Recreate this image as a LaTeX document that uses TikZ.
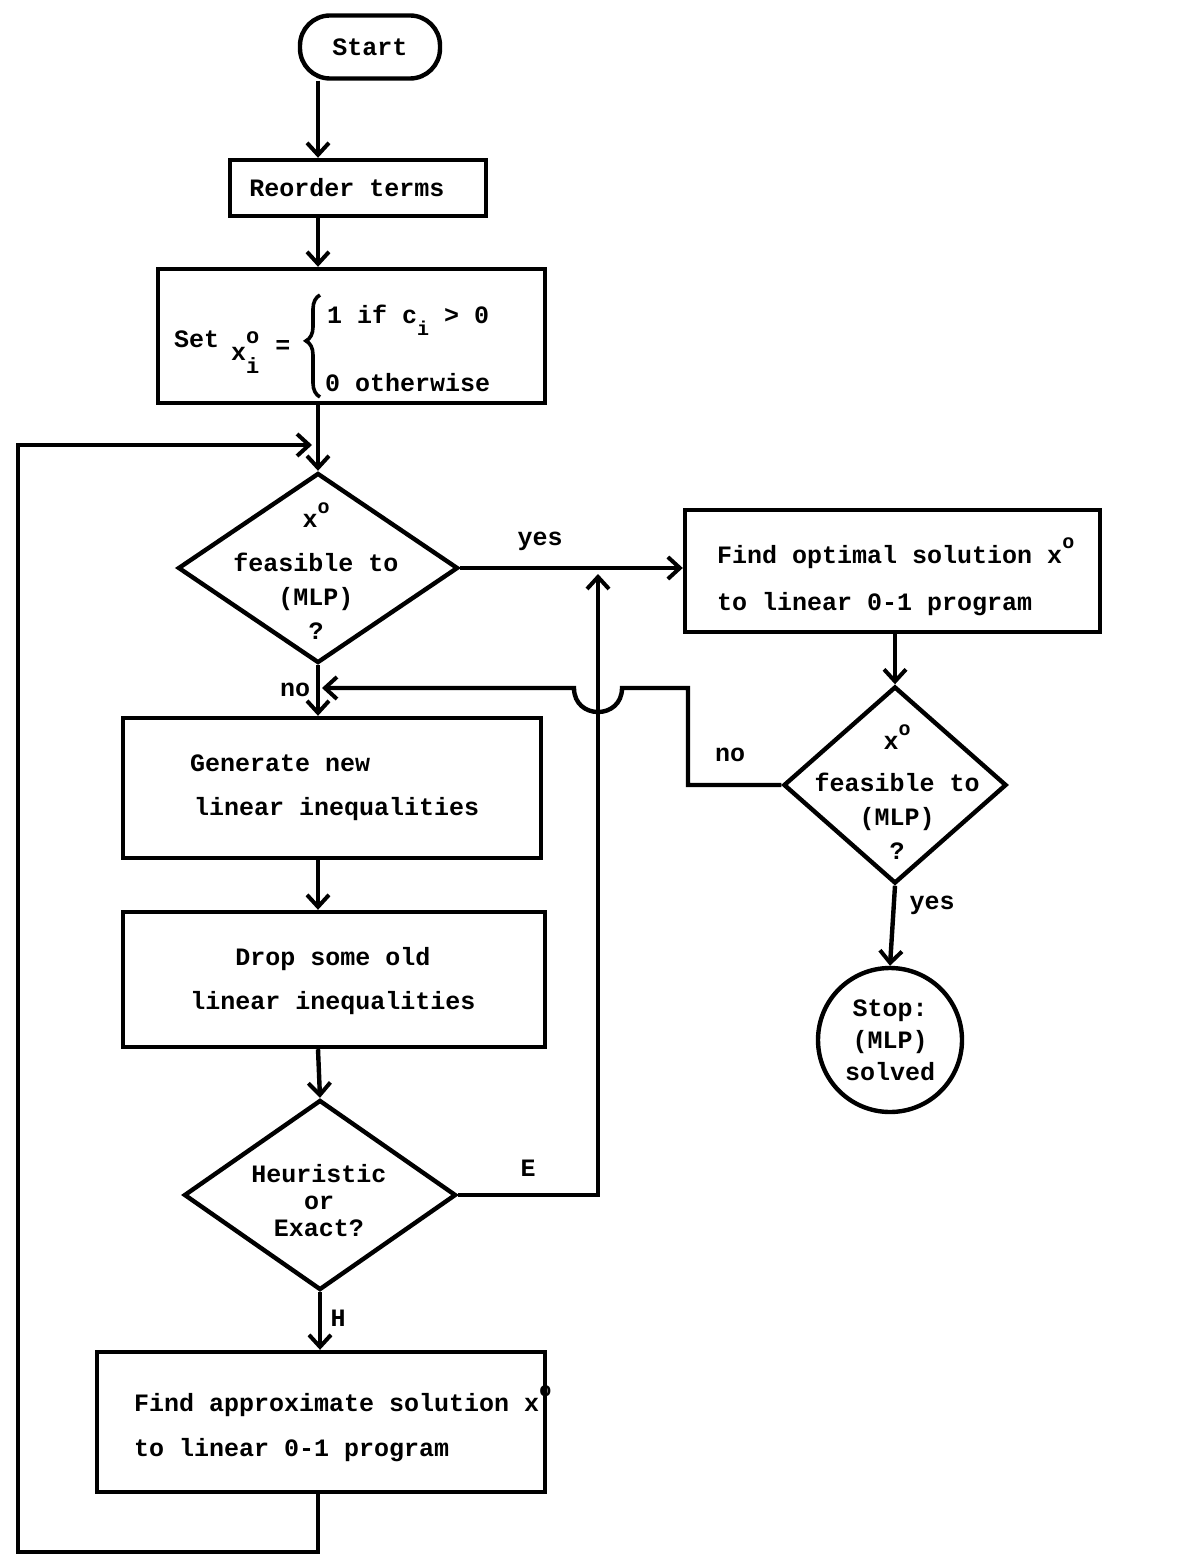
\documentclass[tikz,border=0pt]{standalone}
\usepackage{fontspec}
\setmainfont{Liberation Mono}
\usetikzlibrary{arrows.meta,shapes.geometric,decorations.pathreplacing}
\newcommand{\supfont}{\fontsize{10}{10}\selectfont}
\newcommand{\myxo}{x\raisebox{1.1ex}{\supfont o}}
\newcommand{\myxoi}{x\rlap{\raisebox{1.3ex}{\fontsize{11}{11}\selectfont o}}\raisebox{-1.0ex}{\fontsize{11}{11}\selectfont i}}
\begin{document}
\begin{tikzpicture}[x=0.5pt,y=-0.5pt,line width=2.2pt,
  every node/.style={font=\fontsize{12.5}{22}\selectfont\bfseries},
  box/.style={draw,rectangle,inner sep=0pt},
  dia/.style={draw,diamond,inner sep=0pt},
  txt/.style={inner sep=0pt,align=center,font=\fontsize{12.5}{17}\selectfont\bfseries},
  lbl/.style={inner sep=0pt},
  arr/.style={-{Straight Barb[length=6pt,width=11pt,line width=2pt]}}
]
\useasboundingbox (0,0) rectangle (1185,1556);
\fill[white] (0,0) rectangle (1185,1556);
\coordinate (colx) at (318,0);
\coordinate (ecx) at (598,0);

% nodes
\node[box,rounded corners=15pt,minimum width=70pt,minimum height=31.5pt] (start) at (370,47) {Start};
\node[box,minimum width=128pt,minimum height=28pt] (reorder) at (358,188) {};
\node[lbl] (reordert) at (347,188) {Reorder terms};
\node[box,minimum width=193.5pt,minimum height=67pt] (set) at (351.5,336) {};
\node[lbl,anchor=west] (sett) at (172,352) {Set\hspace{6pt}\raisebox{-1.0ex}{\myxoi}\hspace{8pt}\raisebox{-0.5ex}{=}};
\node[lbl,anchor=west] (set1) at (325,320) {1 if c\raisebox{-0.9ex}{\supfont i} > 0};
\node[lbl,anchor=west] (set2) at (323,383) {0 otherwise};
\draw[line width=1.8pt,decorate,decoration={brace,amplitude=7pt,aspect=0.55}] (320,397) -- (320,295);

\node[dia,minimum width=140pt,minimum height=95pt] (d1) at (318,568) {};
\node[txt] (d1t) at (316,571) {\myxo\\[5pt]feasible to\\(MLP)\\?};

\node[box,minimum width=207.5pt,minimum height=61pt] (opt) at (892.5,571) {};
\node[lbl,anchor=west,align=left,font=\fontsize{12.5}{23.5}\selectfont\bfseries] (optt) at (715,577) {Find optimal solution \myxo\\to linear 0-1 program};

\node[dia,minimum width=111.5pt,minimum height=98.5pt] (d2) at (895,785) {};
\node[txt] (d2t) at (897,792) {\myxo\\[4pt]feasible to\\(MLP)\\?};

\node[draw,circle,minimum size=72pt,inner sep=0pt,align=center,font=\fontsize{12.5}{16}\selectfont\bfseries] (stop) at (890,1040) {Stop:\\(MLP)\\solved};

\node[box,minimum width=209pt,minimum height=70pt] (gen) at (332,788) {};
\node[lbl,anchor=west,align=left] (gent) at (188,788) {Generate new\\\hspace{2pt}linear inequalities};

\node[box,minimum width=211pt,minimum height=67.5pt] (drop) at (334,979.5) {};
\node[lbl,align=center] (dropt) at (333,981) {Drop some old\\linear inequalities};

\node[dia,minimum width=136pt,minimum height=95pt] (d3) at (320,1195) {};
\node[txt,font=\fontsize{12.5}{13.5}\selectfont\bfseries] (d3t) at (319,1201) {Heuristic\\or\\Exact?};

\node[box,minimum width=224pt,minimum height=70pt] (approx) at (321,1422) {};
\node[lbl,anchor=west,align=left,font=\fontsize{12.5}{22.5}\selectfont\bfseries] (approxt) at (132,1424) {Find approximate solution \myxo\\to linear 0-1 program};

% labels
\node[lbl] (yes1) at (540,541) {yes};
\node[lbl] (no2) at (730,755) {no};
\node[lbl] (no1) at (295,690) {no};
\node[lbl] (yes2) at (932,905) {yes};
\node[lbl] (elbl) at (528,1168) {E};
\node[lbl] (hlbl) at (338,1318) {H};

% helper coordinates
\coordinate (nocorner) at (688,688);
\coordinate (lb) at (18,1552);
\coordinate (lt) at (18,445);

% connectors
\draw[arr] (start.south -| colx) -- (reorder.north -| colx);
\draw[arr] (reorder.south -| colx) -- (set.north -| colx);
\draw[arr] (set.south -| colx) -- (d1.north);
\draw[arr] (d1.east) -- (opt.west |- d1.east);
\draw[arr] (opt.south -| d2.north) -- (d2.north);
\draw[arr] (d2.south) -- (stop.north);
\draw[arr,shorten >=2pt] (d2.west) -| (nocorner) -- (622,688) .. controls (622,720) and (574,720) .. (574,688) -- (d1.south |- nocorner);
\draw[arr] (d1.south) -- (gen.north -| d1.south);
\draw[arr] (gen.south -| colx) -- (drop.north -| colx);
\draw[arr] (drop.south -| colx) -- (d3.north);
\draw[arr] (d3.south) -- (approx.north -| d3.south);
\draw[arr,shorten >=3pt] (d3.east) -- (d3.east -| ecx) -- (ecx |- d1.east);
\draw[arr,shorten >=3pt] (approx.south -| colx) |- (lb) -- (lt) -- (colx |- lt);
\end{tikzpicture}
\end{document}
